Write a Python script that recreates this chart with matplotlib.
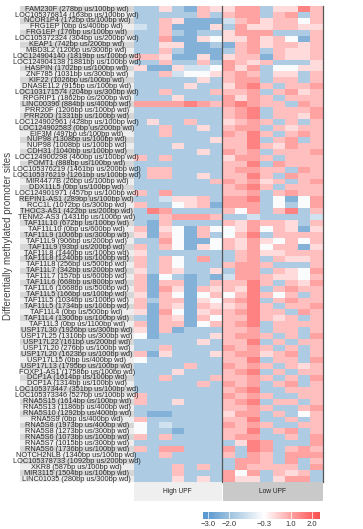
import numpy as np
import matplotlib
matplotlib.use("Agg")
import matplotlib.pyplot as plt
from matplotlib.colors import LinearSegmentedColormap, Normalize
from matplotlib.cm import ScalarMappable

plt.rcParams['font.family'] = ['Liberation Sans', 'DejaVu Sans']

row_labels = [
    "FAM230F (278bp us/100bp wd)", "LOC105376814 (163bp us/100bp wd)", "NCOR1P4 (172bp us/100bp wd)",
    "FRG1EP (0bp us/400bp wd)", "FRG1EP (176bp us/100bp wd)", "LOC105372324 (304bp us/200bp wd)",
    "KEAP1 (742bp us/200bp wd)", "MBD3L2 (120bp us/300bp wd)", "LOC124904140 (1819bp us/100bp wd)",
    "LOC124904138 (1881bp us/100bp wd)", "HASPIN (1702bp us/100bp wd)", "ZNF785 (1031bp us/300bp wd)",
    "KIF22 (1026bp us/100bp wd)", "DNASE1L2 (915bp us/100bp wd)", "LOC103171574 (204bp us/300bp wd)",
    "RPGRIP1 (1862bp us/200bp wd)", "LINC00396 (884bp us/400bp wd)", "PRR20F (1206bp us/100bp wd)",
    "PRR20D (1331bp us/100bp wd)", "LOC124902961 (428bp us/100bp wd)", "LOC124902583 (0bp us/200bp wd)",
    "EIF3M (497bp us/100bp wd)", "NUP98 (1308bp us/100bp wd)", "NUP98 (1008bp us/100bp wd)",
    "CDH31 (1040bp us/100bp wd)", "LOC124900298 (460bp us/100bp wd)", "POMT1 (888bp us/100bp wd)",
    "LOC105376219 (1461bp us/200bp wd)", "LOC105376219 (1261bp us/100bp wd)", "MIR4477B (26bp us/100bp wd)",
    "DDX11L5 (0bp us/100bp wd)", "LOC124901971 (457bp us/100bp wd)", "REPIN1-AS1 (289bp us/100bp wd)",
    "RCC1L (1072bp us/300bp wd)", "THOC3-AS1 (422bp us/200bp wd)", "TENM2-AS3 (1431bp us/100bp wd)",
    "TAF11L10 (672bp us/100bp wd)", "TAF11L10 (0bp us/600bp wd)", "TAF11L9 (1006bp us/300bp wd)",
    "TAF11L9 (906bp us/200bp wd)", "TAF11L9 (93bp us/200bp wd)", "TAF11L8 (1440bp us/100bp wd)",
    "TAF11L8 (1240bp us/100bp wd)", "TAF11L8 (256bp us/500bp wd)", "TAF11L7 (342bp us/200bp wd)",
    "TAF11L7 (157bp us/600bp wd)", "TAF11L6 (668bp us/800bp wd)", "TAF11L6 (1668bp us/500bp wd)",
    "TAF11L5 (166bp us/100bp wd)", "TAF11L5 (1034bp us/100bp wd)", "TAF11L5 (1734bp us/100bp wd)",
    "TAF11L4 (0bp us/500bp wd)", "TAF11L4 (1300bp us/100bp wd)", "TAF11L3 (0bp us/1100bp wd)",
    "USP17L30 (1926bp us/300bp wd)", "USP17L25 (1310bp us/300bp wd)", "USP17L22 (161bp us/200bp wd)",
    "USP17L20 (276bp us/100bp wd)", "USP17L20 (1623bp us/100bp wd)", "USP17L15 (0bp us/400bp wd)",
    "USP17L13 (1795bp us/100bp wd)", "FOXP1-AS1 (1758bp us/100bp wd)", "DCP1A (1614bp us/100bp wd)",
    "DCP1A (1314bp us/100bp wd)", "LOC105373447 (351bp us/100bp wd)", "LOC105373346 (527bp us/100bp wd)",
    "RNA5S15 (1614bp us/100bp wd)", "RNA5S13 (1186bp us/400bp wd)", "RNA5S10 (1292bp us/400bp wd)",
    "RNA5S9 (0bp us/400bp wd)", "RNA5S8 (1973bp us/400bp wd)", "RNA5S8 (1273bp us/300bp wd)",
    "RNA5S6 (1073bp us/100bp wd)", "RNA5S7 (1015bp us/300bp wd)", "RNA5S6 (1736bp us/100bp wd)",
    "NOTCH2NLB (1340bp us/100bp wd)", "LOC105378733 (1092bp us/200bp wd)", "XKR8 (587bp us/100bp wd)",
    "MIR3115 (1504bp us/100bp wd)", "LINC01035 (280bp us/300bp wd)",
]

group_names = ["High UPF", "Low UPF"]

high_upf = [
    [-1.7, -1.7, 0.2, -1.7, -2.4, 0.6, 0.2],
    [-1.7, -1.7, -1.7, -1.7, -1.7, 0.6, -1.7],
    [-1.7, -1.7, 0.6, 0.2, -2.4, -2.4, -2.4],
    [-1.1, -1.7, 0.6, -2.4, -2.4, -2.4, 0.2],
    [-1.7, -1.7, 0.6, -1.7, -2.4, -1.7, -1.7],
    [-1.7, -1.7, 1.0, -2.4, -2.4, 0.2, -0.4],
    [-1.7, -1.7, 0.2, 0.2, -2.4, -2.4, -1.7],
    [-1.7, -1.7, 0.6, -1.7, -2.4, -2.4, -2.4],
    [0.6, 0.6, 0.2, -2.4, -2.4, 0.2, -2.4],
    [-1.7, -1.7, 0.6, -1.7, -1.7, 0.6, -1.7],
    [0.2, -2.4, -2.4, 0.2, -1.1, -1.1, -0.4],
    [-1.7, -1.7, 0.6, -1.1, -0.4, -0.4, 0.2],
    [-1.7, -1.7, -1.7, -1.7, -1.7, 0.2, -1.7],
    [-1.7, -1.7, -1.7, -1.7, 0.2, -1.7, -1.7],
    [-1.7, -1.7, 0.6, -1.7, -1.7, -1.7, 0.6],
    [-1.7, -1.7, -1.7, 0.2, -1.7, -1.7, -1.7],
    [1.0, 1.0, 1.0, 1.0, 1.5, 1.0, 0.6],
    [-1.7, -1.7, -1.7, -1.7, -1.7, -1.7, -1.7],
    [-1.7, -1.7, -1.7, -1.7, -1.7, -1.7, -1.7],
    [-1.7, 0.2, -1.7, -1.7, 0.6, -1.7, -1.7],
    [-1.7, -1.7, 0.6, -1.7, -1.7, 0.2, -1.7],
    [-1.7, -1.7, 0.6, -1.7, -1.7, -1.7, -1.7],
    [-1.7, -1.7, -1.7, -1.7, -1.7, -1.7, 0.2],
    [-1.7, -1.7, -1.7, 0.2, -1.7, -1.7, -1.7],
    [-1.7, -1.7, -1.7, -1.7, -1.7, 0.2, -1.7],
    [0.6, -1.7, 0.6, -1.7, -1.7, -1.7, -1.7],
    [-1.7, -1.7, -1.7, -1.7, -1.7, -1.7, -1.7],
    [-1.7, 0.6, 0.6, -1.7, -1.7, -1.7, -1.7],
    [-1.7, 0.6, 0.6, -1.7, -1.7, 0.2, -1.7],
    [-1.7, -1.7, -1.7, -1.7, -1.7, -1.7, 0.6],
    [-1.7, -1.7, -1.7, -1.7, -1.7, -1.7, -1.7],
    [0.6, -1.7, 1.0, -1.7, -1.7, -1.7, -1.7],
    [-1.7, -1.7, -1.1, 0.2, 0.2, 0.6, -1.7],
    [0.6, -1.7, -1.7, -0.4, 0.2, 0.6, -2.4],
    [-1.7, 1.5, 1.0, -1.7, -1.7, -1.7, -1.7],
    [-1.7, -1.7, 0.6, 1.0, 1.0, 1.0, 0.6],
    [-1.7, -2.4, 0.6, -1.7, -1.7, -1.7, -1.7],
    [0.6, -2.4, 0.2, -0.4, -2.4, 0.6, -0.4],
    [0.2, -2.4, 0.6, -0.4, -2.4, 0.6, -1.7],
    [-1.7, -1.7, 1.0, -0.4, -2.4, -2.4, -0.4],
    [0.6, -1.7, 0.6, -0.4, -2.4, 0.2, -0.4],
    [0.2, -1.7, -1.7, -1.7, -1.7, -1.7, -1.7],
    [0.6, -1.7, 0.6, -0.4, -1.7, 1.0, -1.7],
    [0.6, -1.7, 0.6, -0.4, -1.7, -1.7, -1.7],
    [0.2, -1.7, 0.6, 0.2, -1.7, -1.7, 0.2],
    [0.6, -2.4, -0.4, -1.7, -2.4, -1.7, -2.4],
    [0.6, -2.4, 0.6, 0.6, -2.4, -1.7, 0.6],
    [0.6, -2.4, 1.0, 0.2, -2.4, 0.6, 0.2],
    [0.2, -2.4, 0.6, -0.4, -2.4, -0.4, 0.6],
    [0.6, -1.7, 0.6, 0.6, -2.4, 0.2, -0.4],
    [0.6, -2.4, 0.6, 0.2, -2.4, 0.6, 0.2],
    [0.2, -2.4, 1.0, -0.4, -2.4, 0.2, 0.6],
    [-1.7, -2.4, 0.6, 0.2, -2.4, 0.6, -0.4],
    [0.6, -2.4, 0.6, 0.6, -2.4, -0.4, 0.6],
    [0.2, -2.4, 0.6, -2.4, -1.7, -1.7, -1.7],
    [-0.4, -2.4, -1.7, -1.7, -1.7, -1.7, 0.2],
    [-1.7, -1.7, -1.7, -1.7, -1.7, 0.2, -1.7],
    [-1.7, -1.7, 0.6, -1.7, -1.7, -1.7, -1.7],
    [0.6, -2.4, 0.2, -1.7, -1.7, -1.7, 0.2],
    [-0.4, -1.7, -1.7, -1.7, -1.7, -1.7, -1.7],
    [-1.7, -1.7, -1.7, -1.7, 0.6, -1.7, -1.7],
    [-1.7, -1.7, -1.7, 0.2, -1.7, -1.7, -1.7],
    [-1.7, -1.7, 0.6, -1.7, -1.7, -1.7, 0.6],
    [-1.7, -1.7, -1.7, -1.7, -1.7, 0.6, -1.7],
    [-1.7, -1.7, -1.7, -1.7, -1.7, -1.7, -1.7],
    [0.6, -1.7, -1.7, -1.7, -1.7, -1.7, -1.7],
    [0.6, -1.7, -1.7, 0.2, -1.7, -1.7, -1.7],
    [-1.7, -1.7, -1.7, -1.7, -1.7, -1.7, -1.7],
    [-1.7, -2.4, -2.4, -1.7, -1.7, -1.7, -1.7],
    [0.6, -1.7, -1.7, -1.7, -1.7, -1.7, -1.7],
    [-0.4, -1.7, -1.1, -1.7, -1.7, -1.7, -1.7],
    [-0.4, -1.7, -1.7, -2.4, -1.7, -1.7, -1.7],
    [0.6, -1.7, 0.6, -1.7, -1.7, -1.7, -1.7],
    [-1.7, -1.7, -1.7, -1.7, -1.7, -1.7, -1.7],
    [0.6, -1.7, 1.0, 1.0, -1.7, -1.7, -1.7],
    [-1.7, -1.7, 0.6, -1.7, -1.7, -1.7, -1.7],
    [-1.7, -1.7, -1.7, -1.7, -1.7, -1.7, -1.7],
    [-1.7, -1.7, -1.7, 0.6, -1.7, 0.6, -1.7],
    [-1.7, -1.7, -1.7, 0.6, -1.7, -1.7, -1.7],
    [-1.7, -1.7, -1.7, 0.2, -1.7, 0.2, -1.7],
]

low_upf = [
    [0.2, 1.0, 1.0, -1.7, 0.2, 0.2, 1.5, 0.6],
    [0.6, 1.0, 1.0, -1.7, 0.6, 1.0, -1.7, 0.6],
    [-1.1, 0.6, 1.0, 0.2, 0.6, 0.6, -0.4, 0.6],
    [-1.7, 1.0, 0.2, 0.2, 0.6, 0.6, 0.2, 0.2],
    [0.2, 1.0, 1.0, 1.0, -1.7, -1.7, -1.7, 0.6],
    [0.2, 0.2, 1.0, 0.2, 0.6, -0.4, -2.4, 0.6],
    [-2.4, 0.6, 1.0, 0.2, 0.6, 0.6, 0.2, 0.6],
    [-1.7, 0.6, 1.0, -1.7, 0.6, 0.2, 0.2, 0.6],
    [0.2, 0.6, 0.6, -2.4, 0.6, 0.2, 0.2, 0.6],
    [1.0, 0.6, 0.2, 0.6, -1.7, -1.7, -1.7, 0.2],
    [1.0, 0.2, 1.0, -1.7, -0.4, -0.4, 0.2, 0.2],
    [0.6, 1.0, 0.6, -1.7, 0.2, 0.2, -1.7, 0.6],
    [0.6, 1.0, 1.0, -1.7, 0.6, 0.6, -1.7, 0.6],
    [0.2, 1.0, 1.5, 0.6, -1.7, 0.6, 0.6, 1.0],
    [0.6, 0.6, 1.0, -1.7, 0.6, 1.0, 0.2, 0.6],
    [1.0, 0.2, 1.0, 0.6, -1.7, 0.6, 0.6, 0.6],
    [1.0, 1.5, 1.0, 0.6, 0.6, -1.7, 1.0, 0.6],
    [0.6, 1.0, 1.5, -1.7, 0.6, 0.6, 0.6, 1.0],
    [0.6, 1.0, 1.5, -1.7, 0.6, 0.6, 0.2, 1.0],
    [0.2, 0.6, 1.0, 0.6, -1.7, 0.6, -1.7, 0.6],
    [0.6, 1.0, 1.0, -1.7, 0.6, 0.2, 0.6, 0.6],
    [1.0, 0.6, 1.5, 0.6, -1.7, 0.6, 1.0, 0.6],
    [0.6, 0.6, 1.5, -1.7, 0.6, 1.0, -1.7, 0.6],
    [0.6, 0.6, 1.5, 0.6, 0.2, 1.0, 0.6, 0.6],
    [1.0, 0.6, 1.0, -1.7, 0.6, 0.6, 0.6, 1.0],
    [0.2, 1.0, 1.0, 0.6, -1.7, 0.6, 0.6, 0.6],
    [0.6, 0.6, 1.5, -1.7, 1.0, 0.6, 0.6, 0.6],
    [0.6, 1.0, 1.0, 0.6, 0.6, -1.7, 1.0, 0.6],
    [0.6, 0.6, 1.5, 0.6, -1.7, 1.0, 0.6, 0.6],
    [1.0, 0.6, 1.0, 0.2, 0.6, -1.7, 0.6, 1.0],
    [0.6, 1.0, 1.5, 0.6, -1.7, 0.6, 0.6, 0.6],
    [0.6, 0.6, 1.0, -1.7, 0.6, 1.0, 0.6, 0.6],
    [1.0, 1.0, 1.5, -1.7, -0.4, -2.4, -0.4, 1.0],
    [1.0, 1.0, 1.0, -1.7, -0.4, -1.7, -0.4, 1.0],
    [0.6, -0.4, 1.0, -1.7, 0.6, 1.5, -1.7, 0.6],
    [-1.7, -1.7, -1.1, -1.7, -1.7, -1.7, -1.7, -1.1],
    [0.6, 0.2, 1.0, 0.6, 0.6, 0.2, -1.7, 0.6],
    [-0.4, 0.2, 1.0, -0.4, 0.6, 0.2, -2.4, 0.2],
    [-0.4, 0.6, 1.5, -1.7, 0.6, 0.6, 0.6, 0.6],
    [0.6, 0.2, 1.0, 0.2, -0.4, 0.6, -0.4, 0.6],
    [0.6, 0.2, 1.0, -0.4, 0.6, 0.6, -2.4, 0.2],
    [-1.7, 0.6, 1.0, 0.2, 0.2, 0.6, 0.6, 0.6],
    [-1.7, 0.6, 1.0, -1.7, 0.6, 0.2, 0.2, 0.6],
    [0.6, 1.0, 1.0, 0.6, -1.7, -1.7, -1.7, 0.6],
    [-1.7, 1.0, 1.0, -1.7, 0.6, 0.2, -0.4, 1.0],
    [-1.1, 1.0, 1.0, 0.6, 0.2, 0.2, -0.4, 0.6],
    [0.6, 0.6, 1.5, 0.6, -1.7, 0.6, 0.2, 1.0],
    [0.6, 0.2, 1.5, -1.7, 0.6, 1.0, 0.6, 0.6],
    [-0.4, 0.6, 1.5, 0.6, -0.4, 0.6, -1.7, 0.6],
    [0.6, 1.0, 1.5, -1.7, 0.6, 1.0, 0.6, 0.6],
    [0.2, 0.6, 1.5, 0.6, -1.7, 0.6, 0.6, 1.0],
    [0.6, 1.0, 1.5, 0.6, 0.6, -1.7, 1.0, 0.6],
    [0.6, 0.6, 1.5, 0.6, 0.2, 0.6, -1.7, 0.6],
    [0.6, 1.0, 1.5, -1.7, 0.6, 0.6, 0.6, 0.6],
    [0.6, 0.6, 1.0, -1.7, 0.6, 0.6, -1.7, 0.6],
    [0.6, 1.0, 1.0, 0.6, -1.7, 0.6, -1.7, 1.0],
    [0.6, 0.6, 1.5, -1.7, 0.6, -1.7, 0.6, 0.6],
    [1.0, 0.6, 1.0, 0.6, -1.7, 0.6, -1.7, 0.6],
    [0.6, 1.0, 1.0, 0.2, 0.6, 1.0, -1.7, 0.6],
    [0.6, 0.6, 1.5, -1.7, 0.6, 0.6, -1.7, 1.0],
    [1.0, 0.6, 1.0, 0.6, -1.7, 0.6, 0.2, 0.6],
    [0.6, 1.0, 1.5, -1.7, 0.6, -1.7, 0.6, 0.6],
    [0.6, 0.6, 1.0, 0.6, -1.7, 0.6, -1.7, 1.0],
    [1.0, 0.6, 1.0, -1.7, 0.6, 1.0, -1.7, 0.6],
    [0.6, 1.0, 1.5, -1.7, -1.7, 0.6, 0.6, 0.6],
    [1.0, 0.6, 1.0, 0.6, -1.7, -1.7, 0.6, 0.6],
    [0.6, 1.0, 1.5, -1.7, 0.6, 0.6, -1.7, 0.6],
    [0.6, 0.6, 1.0, 0.6, -1.7, -1.7, 0.6, 1.0],
    [0.2, 1.0, 1.0, -1.7, 0.6, -1.7, -0.4, 0.6],
    [0.6, 0.6, 1.5, -1.7, -1.7, 0.6, -1.7, 0.6],
    [1.0, 0.6, 1.0, 0.6, -1.7, -1.7, 0.6, 0.6],
    [0.6, 0.6, 1.5, -1.7, 0.6, 1.0, -1.7, 0.6],
    [0.6, 1.0, 1.0, -1.7, -1.7, 0.6, -1.7, 1.0],
    [-1.7, 0.2, 1.5, 1.0, -1.7, -1.7, -1.7, 1.0],
    [1.0, -1.7, 1.5, 1.0, -1.7, 0.6, 1.0, 0.6],
    [0.6, -1.7, 1.0, 0.6, -1.7, 1.0, 1.0, 1.0],
    [-1.7, 1.0, 1.0, 0.6, -1.7, 1.0, -1.7, 0.6],
    [-1.7, 1.0, 0.6, 0.6, 0.6, 0.6, -1.7, 1.0],
    [1.0, -0.4, 1.0, -1.7, 0.6, 0.2, 0.6, -1.7],
    [1.0, 0.2, 0.2, -1.7, 0.2, 1.0, 1.0, -1.7],
]

cbar_ticks = [-3.0, -2.0, -0.3, 1.0, 2.0]
cbar_ticklabels = ["\u22123.0", "\u22122.0", "\u22120.3", "1.0", "2.0"]

W, H = 363, 529
fig = plt.figure(figsize=(W / 100, H / 100), dpi=100)


def ax_px(x0, y0, x1, y1):
    return fig.add_axes([x0 / W, 1 - y1 / H, (x1 - x0) / W, (y1 - y0) / H])


vmin, vmax = -3.26, 2.4
nodes = [vmin, -3.0, -2.0, -0.3, 1.0, 2.0, vmax]
node_cols = ['#5A98CE', '#5F9CD1', '#9DC1DE', '#FFFFFF', '#FFA3A3', '#FF6464', '#F65050']
cmap = LinearSegmentedColormap.from_list(
    'upf', [((n - vmin) / (vmax - vmin), c) for n, c in zip(nodes, node_cols)])
norm = Normalize(vmin=vmin, vmax=vmax)

n_rows = len(row_labels)
n_high = len(high_upf[0])
n_low = len(low_upf[0])
data = np.hstack([np.array(high_upf), np.array(low_upf)])
n_cols = n_high + n_low

top, bottom = 6, 482
hx0, hx1 = 134, 323
ax = ax_px(hx0, top, hx1, bottom)
ax.imshow(data, cmap=cmap, norm=norm, aspect='auto', interpolation='nearest',
          extent=(0, n_cols, n_rows, 0))
ax.set_xlim(0, n_cols)
ax.set_ylim(n_rows, 0)
ax.axis('off')
for xv in [n_high, n_cols]:
    ax.plot([xv, xv], [0, n_rows], color='#555555', lw=0.9, clip_on=False)

# row label panel
lax = ax_px(20, top, 133.5, bottom)
lax.set_xlim(0, 1)
lax.set_ylim(n_rows, 0)
for i, lab in enumerate(row_labels):
    lax.axhspan(i, i + 1, color='#D6D6D6' if i % 2 == 0 else '#EDEDED', lw=0)
    lax.text(0.5, i + 0.52, lab, ha='center', va='center', fontsize=5.3, color='#2A2A2A')
lax.axis('off')

# group strips
strip_boxes = [(hx0, 221.6, '#EFEFEF'), (222.6, hx1, '#C9C9C9')]
for (x0, x1, fc), name in zip(strip_boxes, group_names):
    sax = ax_px(x0, bottom, x1, 501)
    sax.set_facecolor(fc)
    sax.set_xticks([])
    sax.set_yticks([])
    for sp in sax.spines.values():
        sp.set_visible(False)
    sax.text(0.5, 0.5, name, ha='center', va='center', fontsize=4.8, color='#222222',
             transform=sax.transAxes)

fig.text(8 / W, 1 - 236 / H, "Differentially methylated promoter sites", rotation=90,
         ha='center', va='center', fontsize=7.0, color='#444444')

# colorbar
cax = ax_px(203, 512, 320, 519)
cb = fig.colorbar(ScalarMappable(norm=norm, cmap=cmap), cax=cax, orientation='horizontal')
cb.outline.set_visible(False)
cb.set_ticks(cbar_ticks)
cb.set_ticklabels(cbar_ticklabels)
cax.tick_params(length=0, labelsize=5.5, pad=1.5, colors='#333333')
for t in cbar_ticks:
    cax.axvline(t, color='white', lw=0.5)

fig.savefig("out.png", dpi=100)
